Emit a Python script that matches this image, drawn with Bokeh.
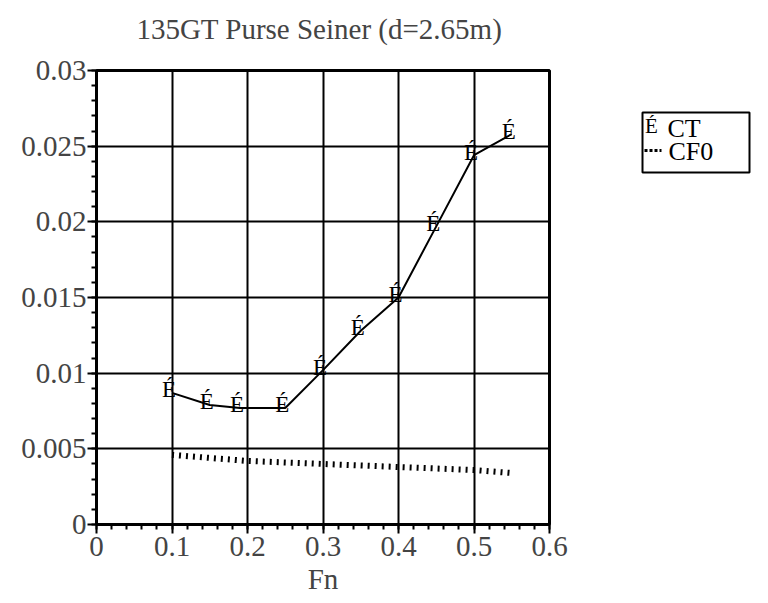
from bokeh.plotting import figure
from bokeh.layouts import row
from bokeh.models import Range1d, FixedTicker, Title
from bokeh.core.properties import value
from bokeh.embed import file_html
from bokeh.resources import INLINE

# Resistance coefficients vs Froude number
fn_ct = [0.10, 0.15, 0.19, 0.25, 0.30, 0.35, 0.40, 0.45, 0.50, 0.55]
ct = [0.0087, 0.0079, 0.0077, 0.0077, 0.0102, 0.0128, 0.0150, 0.0197, 0.0244, 0.0258]

fn_cf0 = [0.10, 0.15, 0.20, 0.25, 0.30, 0.35, 0.40, 0.45, 0.50, 0.55]
cf0 = [0.0046, 0.0044, 0.0042, 0.0041, 0.0040, 0.0039, 0.0038, 0.0037, 0.0036, 0.0034]

x_ticks = [0, 0.1, 0.2, 0.3, 0.4, 0.5, 0.6]
x_tick_labels = ["0", "0.1", "0.2", "0.3", "0.4", "0.5", "0.6"]
y_ticks = [0, 0.005, 0.01, 0.015, 0.02, 0.025, 0.03]
y_tick_labels = ["0", "0.005", "0.01", "0.015", "0.02", "0.025", "0.03"]

FONT = "Liberation Serif"
TOP, BOTTOM = 70, 79

p = figure(width=580, height=603, output_backend="svg", toolbar_location=None,
           x_range=Range1d(0, 0.6), y_range=Range1d(0, 0.03),
           min_border_left=96, min_border_right=31, min_border_top=TOP,
           min_border_bottom=BOTTOM)
p.background_fill_color = "white"
p.border_fill_color = "white"
p.outline_line_color = "black"
p.outline_line_width = 3

# blank strip between the title and the frame
p.add_layout(Title(text=" ", text_font=FONT, text_font_size="12px", standoff=0), "above")

p.title.text = "135GT Purse Seiner  (d=2.65m)"
p.title.text_font = FONT
p.title.text_font_size = "29px"
p.title.text_font_style = "normal"
p.title.align = "center"
p.title.standoff = 20

for ax in (p.xaxis[0], p.yaxis[0]):
    ax.major_label_text_font = FONT
    ax.major_label_text_font_size = "29px"
    ax.axis_line_color = "black"
    ax.axis_line_width = 3
    ax.major_tick_line_color = "black"
    ax.major_tick_line_width = 2
    ax.minor_tick_line_color = "black"
    ax.minor_tick_line_width = 2
    ax.major_tick_in = 0
    ax.major_tick_out = 9
    ax.minor_tick_in = 0
    ax.minor_tick_out = 5
    ax.axis_label_text_font = FONT
    ax.axis_label_text_font_size = "29px"
    ax.axis_label_text_font_style = "normal"

p.xaxis[0].ticker = FixedTicker(ticks=x_ticks, minor_ticks=[i * 0.02 for i in range(0, 31)])
p.yaxis[0].ticker = FixedTicker(ticks=y_ticks, minor_ticks=[i * 0.001 for i in range(0, 31)])
p.xaxis[0].major_label_overrides = dict(zip(x_ticks, x_tick_labels))
p.yaxis[0].major_label_overrides = dict(zip(y_ticks, y_tick_labels))
p.xaxis.axis_label = "Fn"
p.xaxis.major_label_standoff = 3
p.xaxis.axis_label_standoff = 4
p.yaxis.major_label_standoff = 1

p.xgrid.ticker = FixedTicker(ticks=x_ticks)
p.ygrid.ticker = FixedTicker(ticks=y_ticks)
for g in (p.xgrid[0], p.ygrid[0]):
    g.grid_line_color = "black"
    g.grid_line_width = 2
    g.grid_line_alpha = 1

# CF0: thick dotted friction line
p.line(fn_cf0, cf0, line_color="black", line_width=6, line_dash="2 5")

# CT: solid line with character markers
p.line(fn_ct, ct, line_color="black", line_width=2)
p.text(fn_ct, ct, text=["É"] * len(fn_ct), text_font=value(FONT),
       text_font_size="23px", text_align="center", text_baseline="middle",
       x_offset=-3, y_offset=-3, text_color="black")

# Legend panel; its frame lines up with the main frame, so y is in page pixels
lg = figure(width=188, height=603, output_backend="svg", toolbar_location=None,
            x_range=Range1d(0, 188), y_range=Range1d(603 - BOTTOM, TOP),
            min_border_left=0, min_border_right=0,
            min_border_top=TOP, min_border_bottom=BOTTOM, outline_line_color=None)
lg.axis.visible = False
lg.grid.visible = False
lg.background_fill_color = "white"
lg.border_fill_color = "white"
lg.quad(left=[62], right=[169], top=[112], bottom=[172],
        fill_color=None, line_color="black", line_width=2)
lg.text([71], [125], text=["É"], text_font=value(FONT), text_font_size="21px",
        text_align="center", text_baseline="middle", text_color="black")
lg.text([87, 88], [128, 151], text=["CT", "CF0"], text_font=value(FONT),
        text_font_size="26px", text_align="left", text_baseline="middle",
        text_color="black")
lg.line([64, 81], [150, 150], line_color="black", line_width=3, line_dash="3 2")

layout = row(p, lg, spacing=0)

open("out.html", "w").write(file_html(layout, INLINE))
